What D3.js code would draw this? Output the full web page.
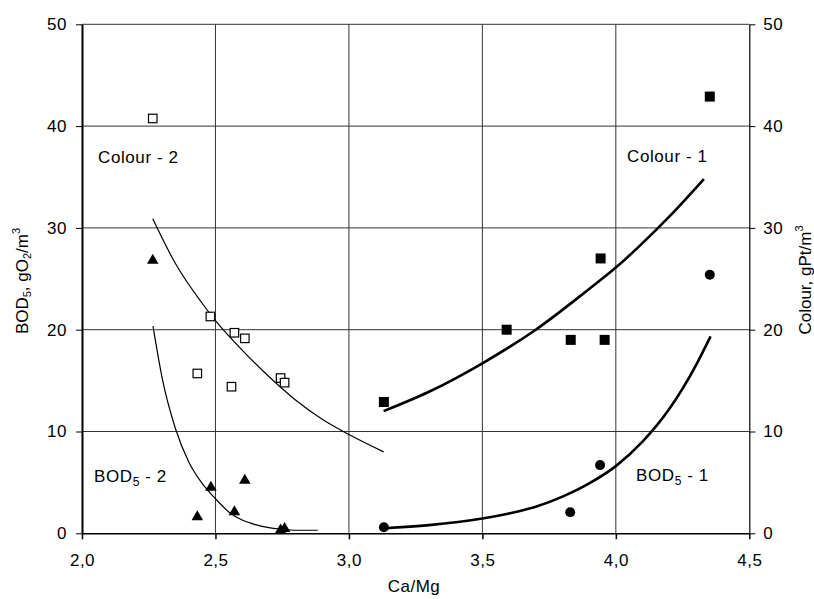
<!DOCTYPE html>
<html>
<head>
<meta charset="utf-8">
<script src="https://cdn.jsdelivr.net/npm/d3@7"></script>
<style>
  body { margin: 0; background: #fff; }
  svg { display: block; font-family: "Liberation Sans", Arial, sans-serif; }
  .axis text { font-size: 17px; fill: #000; letter-spacing: 0.5px; }
  .axis path, .axis line { stroke: #000; }
  .grid line { stroke: #333; stroke-width: 1; }
  .label { font-size: 17px; fill: #000; }
</style>
</head>
<body>
<div class="chart"></div>
<script>
// Colour - 2 (open squares) and BOD5 - 2 (triangles), Ca/Mg < 3
const colour2X = [2.265, 2.481, 2.571, 2.610, 2.432, 2.560, 2.744, 2.759];
const colour2Y = [40.75, 21.3, 19.7, 19.15, 15.7, 14.4, 15.25, 14.8];
const bod2X = [2.265, 2.483, 2.610, 2.432, 2.571, 2.744, 2.759];
const bod2Y = [26.8, 4.5, 5.2, 1.6, 2.1, 0.3, 0.45];

// Colour - 1 (filled squares) and BOD5 - 1 (circles), Ca/Mg > 3
const colour1X = [4.352, 3.943, 3.591, 3.831, 3.958, 3.131];
const colour1Y = [42.9, 27.0, 20.0, 19.0, 19.0, 12.9];
const bod1X = [4.352, 3.941, 3.829, 3.131];
const bod1Y = [25.4, 6.7, 2.06, 0.59];

// trend lines
const colour2FitX = [2.265, 2.35, 2.45, 2.5, 2.6, 2.7, 2.8, 2.9, 3.0, 3.13];
const colour2FitY = [30.9, 26.5, 22.6, 20.9, 18.0, 15.4, 13.1, 11.2, 9.7, 8.0];
const bod2FitX = [2.266, 2.30, 2.35, 2.40, 2.45, 2.50, 2.55, 2.60, 2.65, 2.70, 2.75, 2.80, 2.883];
const bod2FitY = [20.35, 15.3, 10.3, 7.0, 4.9, 3.4, 2.1, 1.3, 0.85, 0.55, 0.4, 0.3, 0.3];
const colour1FitX = [3.13, 3.3, 3.5, 3.7, 3.9, 4.0, 4.1, 4.2, 4.33];
const colour1FitY = [12.0, 13.9, 16.7, 20.0, 24.0, 26.1, 28.5, 31.1, 34.8];
const bod1FitX = [3.13, 3.3, 3.5, 3.6, 3.7, 3.8, 3.9, 4.0, 4.1, 4.2, 4.3, 4.355];
const bod1FitY = [0.5, 0.8, 1.45, 1.95, 2.6, 3.6, 4.9, 6.6, 9.0, 12.2, 16.5, 19.35];

const xTicks = [2.0, 2.5, 3.0, 3.5, 4.0, 4.5];
const yTicks = [0, 10, 20, 30, 40, 50];

const margin = { top: 24.3, right: 64.7, bottom: 65.7, left: 82 };
const width = 814 - margin.left - margin.right;
const height = 599 - margin.top - margin.bottom;

const x = d3.scaleLinear().domain([2, 4.5]).range([0, width]);
const y = d3.scaleLinear().domain([0, 50]).range([height, 0]);

const svg = d3.select(".chart").append("svg")
  .attr("width", 814)
  .attr("height", 599);

const g = svg.append("g")
  .attr("transform", `translate(${margin.left},${margin.top})`);

// grid
const grid = g.append("g").attr("class", "grid");
grid.selectAll("line.v")
  .data(xTicks.slice(1, -1))
  .join("line")
  .attr("class", "v")
  .attr("x1", d => x(d)).attr("x2", d => x(d))
  .attr("y1", 0).attr("y2", height);
grid.selectAll("line.h")
  .data(yTicks.slice(1))
  .join("line")
  .attr("class", "h")
  .attr("x1", 0).attr("x2", width)
  .attr("y1", d => y(d)).attr("y2", d => y(d));

const fmt = d3.format(".1f");
const comma = d => fmt(d).replace(".", ",");

const xAxis = d3.axisBottom(x).tickValues(xTicks).tickFormat(comma).tickSize(6).tickSizeOuter(0).tickPadding(15);
const yAxisL = d3.axisLeft(y).tickValues(yTicks).tickSize(6).tickSizeOuter(0).tickPadding(9);
const yAxisR = d3.axisRight(y).tickValues(yTicks).tickSize(6).tickSizeOuter(0).tickPadding(8);

g.append("g").attr("class", "x axis")
  .attr("transform", `translate(0,${height})`)
  .call(xAxis)
  .call(s => s.selectAll(".tick line").attr("stroke-width", 1.5))
  .call(s => s.select(".domain").attr("stroke-width", 1.5));

g.append("g").attr("class", "y axis")
  .call(yAxisL)
  .call(s => s.select(".domain").attr("stroke", "#444").attr("stroke-width", 2));

g.append("g").attr("class", "y axis right")
  .attr("transform", `translate(${width},0)`)
  .call(yAxisR)
  .call(s => s.select(".domain").attr("stroke-width", 1.2));

// axis titles
svg.append("text")
  .attr("class", "label")
  .attr("x", 414).attr("y", 592)
  .attr("text-anchor", "middle")
  .style("letter-spacing", "0.5px")
  .text("Ca/Mg");

const leftTitle = svg.append("text")
  .attr("class", "label")
  .attr("transform", "translate(28,281) rotate(-90)")
  .attr("text-anchor", "middle");
leftTitle.append("tspan").text("BOD");
leftTitle.append("tspan").attr("dy", 3).style("font-size", "11px").text("5");
leftTitle.append("tspan").attr("dy", -3).text(", gO");
leftTitle.append("tspan").attr("dy", 3).style("font-size", "11px").text("2");
leftTitle.append("tspan").attr("dy", -3).text("/m");
leftTitle.append("tspan").attr("dy", -8).style("font-size", "11px").text("3");

const rightTitle = svg.append("text")
  .attr("class", "label")
  .attr("transform", "translate(811,280) rotate(-90)")
  .attr("text-anchor", "middle");
rightTitle.append("tspan").text("Colour, gPt/m");
rightTitle.append("tspan").attr("dy", -8).style("font-size", "11px").text("3");

// trend lines
const line = d3.line().x(d => x(d[0])).y(d => y(d[1])).curve(d3.curveMonotoneX);
const fits = [
  { xs: colour2FitX, ys: colour2FitY, w: 1.2 },
  { xs: bod2FitX, ys: bod2FitY, w: 1.2 },
  { xs: colour1FitX, ys: colour1FitY, w: 2.6 },
  { xs: bod1FitX, ys: bod1FitY, w: 2.6 }
];
g.selectAll("path.fit")
  .data(fits)
  .join("path")
  .attr("class", "fit")
  .attr("fill", "none")
  .attr("stroke", "#000")
  .attr("stroke-width", d => d.w)
  .attr("d", d => line(d3.zip(d.xs, d.ys)));

// markers
const pts = (xs, ys) => d3.zip(xs, ys);
const sq = 8.5;
g.append("g").selectAll("rect")
  .data(pts(colour2X, colour2Y))
  .join("rect")
  .attr("x", d => x(d[0]) - sq / 2).attr("y", d => y(d[1]) - sq / 2)
  .attr("width", sq).attr("height", sq)
  .attr("fill", "#fff").attr("stroke", "#000").attr("stroke-width", 1.2);

g.append("g").selectAll("rect")
  .data(pts(colour1X, colour1Y))
  .join("rect")
  .attr("x", d => x(d[0]) - 5).attr("y", d => y(d[1]) - 5)
  .attr("width", 10).attr("height", 10)
  .attr("fill", "#000");

const tri = d3.symbol().type(d3.symbolTriangle).size(58);
g.append("g").selectAll("path")
  .data(pts(bod2X, bod2Y))
  .join("path")
  .attr("transform", d => `translate(${x(d[0])},${y(d[1])})`)
  .attr("d", tri)
  .attr("fill", "#000");

g.append("g").selectAll("circle")
  .data(pts(bod1X, bod1Y))
  .join("circle")
  .attr("cx", d => x(d[0])).attr("cy", d => y(d[1]))
  .attr("r", 5)
  .attr("fill", "#000");

// series labels
const lab = (px, py, main, sub, rest) => {
  const t = svg.append("text").attr("class", "label")
    .attr("x", px).attr("y", py)
    .style("letter-spacing", "0.6px");
  t.append("tspan").text(main);
  if (sub) {
    t.append("tspan").attr("dy", 4).style("font-size", "12px").text(sub);
    t.append("tspan").attr("dy", -4).text(rest);
  }
};
lab(98, 163, "Colour - 2");
lab(627, 162, "Colour - 1");
lab(94, 482, "BOD", "5", " - 2");
lab(636, 481, "BOD", "5", " - 1");
</script>
</body>
</html>
